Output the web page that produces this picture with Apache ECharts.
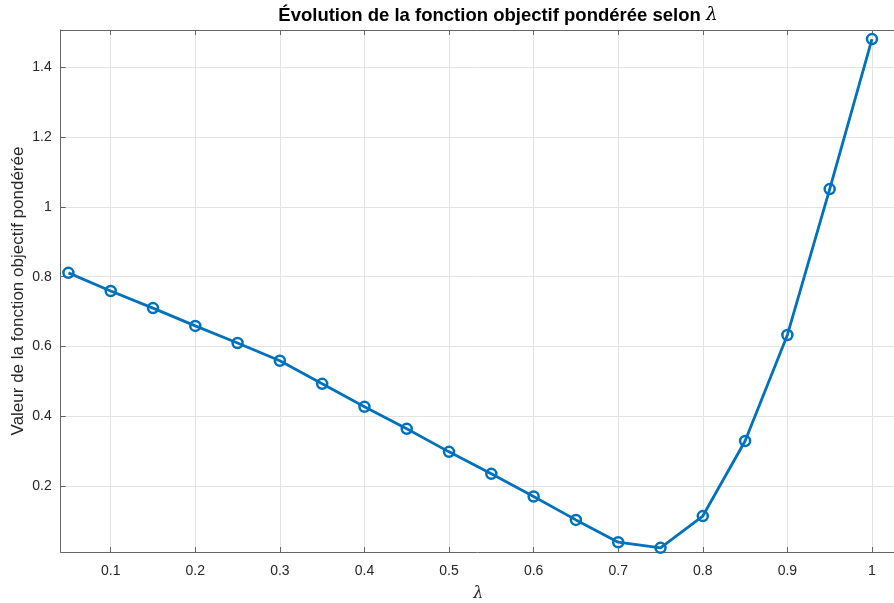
<!DOCTYPE html>
<html>
<head>
<meta charset="utf-8">
<script src="https://cdn.jsdelivr.net/npm/echarts@6/dist/echarts.min.js"></script>
<style>
  html, body { margin: 0; padding: 0; background: #fff; }
  #chart { width: 894px; height: 603px; }
</style>
</head>
<body>
<div id="chart"></div>
<script>
// valeurs de lambda et de la fonction objectif
var lambdas = [0.05, 0.1, 0.15, 0.2, 0.25, 0.3, 0.35, 0.4, 0.45, 0.5,
               0.55, 0.6, 0.65, 0.7, 0.75, 0.8, 0.85, 0.9, 0.95, 1.0];
var objectif = [0.811, 0.759, 0.710, 0.659, 0.610, 0.559, 0.493, 0.427, 0.364, 0.298,
                0.235, 0.170, 0.103, 0.039, 0.023, 0.114, 0.329, 0.633, 1.051, 1.481];
var xTicks = [0.1, 0.2, 0.3, 0.4, 0.5, 0.6, 0.7, 0.8, 0.9, 1.0];
var yTicks = [0.2, 0.4, 0.6, 0.8, 1.0, 1.2, 1.4];

var axisColor = '#666666';
var textColor = '#262626';
var fmt = function (v) { return String(+v.toFixed(2)); };

var chart = echarts.init(document.getElementById('chart'));

var lambdaStyle = { fontFamily: 'DejaVu Serif', fontStyle: 'italic', fontSize: 16, color: textColor };

var option = {
  animation: false,
  title: {
    text: 'Évolution de la fonction objectif pondérée selon {l|λ}',
    left: 493,
    top: 1,
    textAlign: 'center',
    textStyle: {
      fontFamily: 'Liberation Sans',
      fontSize: 18.5,
      fontWeight: 'bold',
      color: '#000',
      rich: { l: { fontFamily: 'DejaVu Serif', fontStyle: 'italic', fontSize: 18.5, fontWeight: 'normal', color: '#000' } }
    }
  },
  grid: { left: 60.7, right: -2, top: 30, bottom: 51, containLabel: false, outerBoundsMode: 'none' },
  xAxis: [{
    type: 'value',
    min: 0.0409,
    max: 1.0284,
    name: '{l|λ}',
    nameLocation: 'middle',
    nameGap: 34,
    nameTextStyle: { rich: { l: lambdaStyle } },
    axisLine: { show: true, lineStyle: { color: axisColor, width: 1 } },
    axisTick: { show: true, inside: true, length: 5, customValues: xTicks, lineStyle: { color: axisColor } },
    axisLabel: { customValues: xTicks, formatter: fmt, margin: 12, fontFamily: 'Liberation Sans', fontSize: 14, color: textColor },
    splitLine: { show: true, lineStyle: { color: '#e3e3e3', width: 1 } }
  }, {
    type: 'value',
    position: 'top',
    min: 0.0409,
    max: 1.0284,
    axisLine: { show: true, onZero: false, lineStyle: { color: axisColor, width: 1 } },
    axisTick: { show: true, inside: true, length: 5, customValues: xTicks, lineStyle: { color: axisColor } },
    axisLabel: { show: false },
    splitLine: { show: false }
  }],
  yAxis: [{
    type: 'value',
    min: 0.011,
    max: 1.507,
    name: 'Valeur de la fonction objectif pondérée',
    nameLocation: 'middle',
    nameGap: 34,
    nameMoveOverlap: false,
    nameTextStyle: { fontFamily: 'Liberation Sans', fontSize: 17, color: textColor },
    axisLine: { show: true, lineStyle: { color: axisColor, width: 1 } },
    axisTick: { show: true, inside: true, length: 5, customValues: yTicks, lineStyle: { color: axisColor } },
    axisLabel: { customValues: yTicks, formatter: fmt, margin: 9, fontFamily: 'Liberation Sans', fontSize: 14, color: textColor },
    splitLine: { show: true, lineStyle: { color: '#e3e3e3', width: 1 } }
  }],
  series: [{
    type: 'line',
    data: lambdas.map(function (x, i) { return [x, objectif[i]]; }),
    symbol: 'circle',
    symbolSize: 10,
    lineStyle: { color: '#0072BD', width: 2.8 },
    itemStyle: { color: 'rgba(0,0,0,0)', borderColor: '#0072BD', borderWidth: 2.5 },
    clip: false
  }]
};
chart.setOption(option);
</script>
</body>
</html>
